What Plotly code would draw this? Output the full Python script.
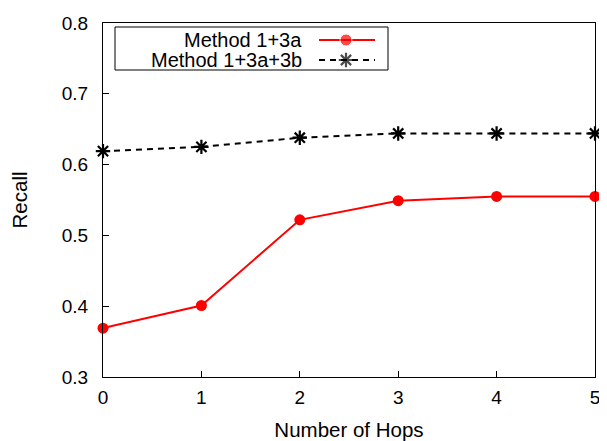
import plotly.graph_objects as go

hops = [0, 1, 2, 3, 4, 5]
recall_3a = [0.369, 0.401, 0.522, 0.549, 0.555, 0.555]
recall_3a_3b = [0.619, 0.625, 0.638, 0.644, 0.644, 0.644]
series_names = ["Method 1+3a", "Method 1+3a+3b"]
y_ticks = [0.3, 0.4, 0.5, 0.6, 0.7, 0.8]

FONT = "Liberation Sans, Arial, sans-serif"

fig = go.Figure()
fig.add_trace(go.Scatter(
    x=hops, y=recall_3a, name=series_names[0], mode="lines+markers",
    line=dict(color="#ff0000", width=2),
    marker=dict(symbol="circle", size=11, color="#ff0000"),
    showlegend=False, cliponaxis=False))
fig.add_trace(go.Scatter(
    x=hops, y=recall_3a_3b, name=series_names[1], mode="lines+markers",
    line=dict(color="black", width=2, dash="6px,5px"),
    marker=dict(symbol="asterisk-open", size=12, color="black",
                line=dict(color="black", width=2.2)),
    showlegend=False, cliponaxis=False))

# Custom legend (gnuplot style: text right-aligned, sample on the right),
# drawn on an overlay axis measured in page pixels.
fig.add_trace(go.Scatter(
    x=[319, 346, 375], y=[40, 40, 40], mode="lines+markers", xaxis="x2", yaxis="y2",
    line=dict(color="#ff0000", width=2),
    marker=dict(symbol="circle", size=[0, 12, 0], color="#ff0000"),
    showlegend=False, hoverinfo="skip", cliponaxis=False))
fig.add_trace(go.Scatter(
    x=[319, 346, 375], y=[60, 60, 60], mode="lines+markers", xaxis="x2", yaxis="y2",
    line=dict(color="black", width=2, dash="6px,5px"),
    marker=dict(symbol="asterisk-open", size=[0, 12, 0], color="black",
                line=dict(color="black", width=2.2)),
    showlegend=False, hoverinfo="skip", cliponaxis=False))

fig.update_layout(
    width=599, height=433,
    margin=dict(l=95, r=12, t=15, b=64, autoexpand=False),
    paper_bgcolor="white", plot_bgcolor="white",
    font=dict(family=FONT, color="black", size=20),
    xaxis=dict(range=[0, 5], tickvals=hops, ticks="inside", ticklen=6,
               tickcolor="black", showline=True, linecolor="black", linewidth=1,
               mirror=True, showgrid=False, zeroline=False, automargin=False,
               tickfont=dict(size=19), ticklabelstandoff=3,
               title=dict(text="Number of Hops", font=dict(size=20.5), standoff=17)),
    yaxis=dict(range=[0.3, 0.8], tickvals=y_ticks, ticktext=["%.1f" % v for v in y_ticks],
               ticks="inside", ticklen=6,
               tickcolor="black", showline=True, linecolor="black", linewidth=1,
               mirror=True, showgrid=False, zeroline=False, automargin=False,
               tickfont=dict(size=19), ticklabelstandoff=10,
               title=dict(text="Recall", font=dict(size=20.5), standoff=32)),
    xaxis2=dict(overlaying="x", range=[103, 595], visible=False, fixedrange=True,
                automargin=False),
    yaxis2=dict(overlaying="y", range=[377, 23], visible=False, fixedrange=True,
                automargin=False),
    shapes=[dict(type="rect", xref="x2", yref="y2", x0=115, x1=388, y0=27, y1=70,
                 line=dict(color="black", width=1), fillcolor="rgba(0,0,0,0)")],
    annotations=[
        dict(xref="x2", yref="y2", x=304, y=40, text=series_names[0], showarrow=False,
             xanchor="right", yanchor="middle", font=dict(size=20)),
        dict(xref="x2", yref="y2", x=304, y=60, text=series_names[1], showarrow=False,
             xanchor="right", yanchor="middle", font=dict(size=20)),
    ],
)

fig.write_html("out.html")
